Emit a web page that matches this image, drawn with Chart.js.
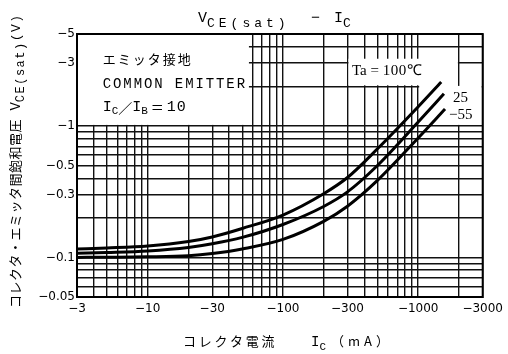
<!DOCTYPE html>
<html>
<head>
<meta charset="utf-8">
<script src="https://cdn.jsdelivr.net/npm/chart.js@4.4.1/dist/chart.umd.min.js"></script>
<style>
    html, body { margin: 0; padding: 0; background: #fff; }
    #wrap { width: 508px; height: 354px; }
</style>
</head>
<body>
<div id="wrap"><canvas id="vceChart" width="508" height="354"></canvas></div>
<script>
// Collector current IC (mA) and VCE(sat) (V)
const ic100 = [-3, -5, -10, -20, -30, -50, -100, -200, -300, -500, -1000, -1480];
const vce100 = [-0.116, -0.118, -0.122, -0.132, -0.143, -0.166, -0.210, -0.305, -0.405, -0.67, -1.40, -2.16];

const ic25 = [-3, -5, -10, -20, -30, -50, -100, -200, -300, -500, -1000, -1550];
const vce25 = [-0.1075, -0.109, -0.112, -0.119, -0.127, -0.142, -0.178, -0.244, -0.315, -0.50, -1.07, -1.755];

const icM55 = [-3, -5, -10, -20, -30, -50, -100, -200, -300, -500, -1000, -1580];
const vceM55 = [-0.100, -0.1003, -0.101, -0.103, -0.107, -0.116, -0.137, -0.188, -0.245, -0.385, -0.81, -1.345];

// log paper grid and labelled ticks
const xGrid = [3, 4, 5, 6, 7, 8, 9, 10, 20, 30, 40, 50, 60, 70, 80, 90, 100, 200, 300, 400, 500, 600, 700, 800, 900, 1000, 2000, 3000];
const xLabels = [3, 10, 30, 100, 300, 1000, 3000];
const yGrid = [0.05, 0.06, 0.07, 0.08, 0.09, 0.1, 0.2, 0.3, 0.4, 0.5, 0.6, 0.7, 0.8, 0.9, 1, 2, 3, 4, 5];
const yLabels = [0.05, 0.1, 0.3, 0.5, 1, 3, 5];

function toPoints(xs, ys) {
    return xs.map((x, i) => ({ x: Math.abs(x), y: Math.abs(ys[i]) }));
}

function curve(label, xs, ys) {
    return {
        label: label,
        data: toPoints(xs, ys),
        borderColor: '#000',
        borderWidth: 3,
        pointRadius: 0,
        fill: false,
        cubicInterpolationMode: 'monotone'
    };
}

// draws a row of text pieces (text, font, dy, letter spacing)
function drawParts(ctx, x, y, parts) {
    let cx = x;
    parts.forEach(p => {
        ctx.font = p[1];
        ctx.letterSpacing = (p[3] || 0) + 'px';
        ctx.fillText(p[0], cx, y + (p[2] || 0));
        cx += ctx.measureText(p[0]).width;
    });
    ctx.letterSpacing = '0px';
}

const paperPlugin = {
    id: 'paper',
    beforeDatasetsDraw(chart) {
        const ctx = chart.ctx;
        const xs = chart.scales.x, ys = chart.scales.y;
        const box = (x0, x1, y0, y1) => {
            const l = xs.getPixelForValue(x0) + 1, r = xs.getPixelForValue(x1) - 1;
            const t = ys.getPixelForValue(y1) + 1, b = ys.getPixelForValue(y0) - 1;
            ctx.fillRect(l, t, r - l, b - t);
        };
        ctx.save();
        ctx.fillStyle = '#fff';
        box(3, 57, 1, 5);          // condition box
        box(300, 2000, 2, 3.3);    // Ta label
        box(1000, 3000, 1, 2.05);  // 25 / -55 labels
        ctx.restore();
    },
    afterDraw(chart) {
        const ctx = chart.ctx;
        const a = chart.chartArea;
        const xs = chart.scales.x, ys = chart.scales.y;
        ctx.save();
        ctx.strokeStyle = '#000';
        ctx.lineWidth = 2;
        ctx.strokeRect(a.left, a.top, a.right - a.left, a.bottom - a.top);

        ctx.fillStyle = '#000';
        ctx.textBaseline = 'middle';
        const mono = 'Liberation Mono';
        const jp = '"Noto Sans CJK JP"';

        // condition box text
        const bx = xs.getPixelForValue(4.65);
        drawParts(ctx, bx, ys.getPixelForValue(3.23), [['エミッタ接地', '13px ' + jp, 0, 2]]);
        drawParts(ctx, bx, ys.getPixelForValue(2.07), [['COMMON EMITTER', '14px ' + mono, 0, 1.9]]);
        drawParts(ctx, bx, ys.getPixelForValue(1.38), [
            ['I', '15px ' + mono], ['C', '11px ' + mono, 4], ['／', '14px ' + jp],
            ['I', '15px ' + mono], ['B', '11px ' + mono, 4], [' ＝ ', '13px ' + jp], ['10', '15px ' + mono, 0, 1]
        ]);

        // temperature labels
        const serif = 'Liberation Serif';
        drawParts(ctx, xs.getPixelForValue(324), ys.getPixelForValue(2.61), [['Ta', '15px ' + serif], [' = ', '15px ' + serif], ['100℃', '15px ' + serif, 0, 0.5]]);
        drawParts(ctx, xs.getPixelForValue(1807), ys.getPixelForValue(1.615), [['25', '15px ' + serif]]);
        drawParts(ctx, xs.getPixelForValue(1688), ys.getPixelForValue(1.216), [['−55', '15px ' + serif]]);

        // chart title
        ctx.textBaseline = 'alphabetic';
        drawParts(ctx, 198, 22, [['V', '15px ' + mono], ['CE(sat)', '13px ' + mono, 5, 4]]);
        drawParts(ctx, 311, 22, [['−', '15px ' + mono]]);
        drawParts(ctx, 334, 22, [['I', '15px ' + mono], ['C', '13px ' + mono, 5]]);

        // x axis title
        drawParts(ctx, 183, 346, [['コレクタ電流', '13px ' + jp, 0, 2.7]]);
        drawParts(ctx, 311, 346, [['I', '14px ' + mono], ['C', '11px ' + mono, 4]]);
        drawParts(ctx, 331, 346, [['（mA）', '13px ' + jp, 0, 4]]);

        // y axis title (rotated)
        ctx.translate(20, 308);
        ctx.rotate(-Math.PI / 2);
        drawParts(ctx, 0, 0, [
            ['コレクタ・エミッタ間飽和電圧', '13px ' + jp, 0, 0.5],
            [' V', '14px ' + mono], ['CE(sat)', '12px ' + mono, 4, 1.5], ['(V)', '13px ' + mono, 0, 1.5]
        ]);
        ctx.restore();
    }
};

const tickFont = { family: 'DejaVu Sans', size: 12 };

new Chart(document.getElementById('vceChart').getContext('2d'), {
    type: 'line',
    data: {
        datasets: [
            curve('100', ic100, vce100),
            curve('25', ic25, vce25),
            curve('-55', icM55, vceM55)
        ]
    },
    options: {
        responsive: false,
        animation: false,
        layout: { padding: { top: 34, right: 21, left: 0, bottom: 0 } },
        plugins: { legend: { display: false }, tooltip: { enabled: false } },
        scales: {
            x: {
                type: 'logarithmic',
                min: 3,
                max: 3000,
                afterBuildTicks: scale => { scale.ticks = xGrid.map(v => ({ value: v })); },
                afterFit: scale => { scale.height = 57; },
                grid: { color: '#111', lineWidth: 1.4, drawTicks: false },
                border: { display: true, color: '#000', width: 2 },
                ticks: {
                    autoSkip: false,
                    maxRotation: 0,
                    padding: 5,
                    color: '#000',
                    font: tickFont,
                    callback: v => xLabels.includes(v) ? '−' + v : ''
                }
            },
            y: {
                type: 'logarithmic',
                min: 0.05,
                max: 5,
                afterBuildTicks: scale => { scale.ticks = yGrid.map(v => ({ value: v })); },
                afterFit: scale => { scale.width = 77; },
                grid: { color: '#111', lineWidth: 1.4, drawTicks: false },
                border: { display: true, color: '#000', width: 2 },
                ticks: {
                    autoSkip: false,
                    padding: 2,
                    color: '#000',
                    font: tickFont,
                    callback: v => yLabels.includes(v) ? '−' + v : ''
                }
            }
        }
    },
    plugins: [paperPlugin]
});
</script>
</body>
</html>
